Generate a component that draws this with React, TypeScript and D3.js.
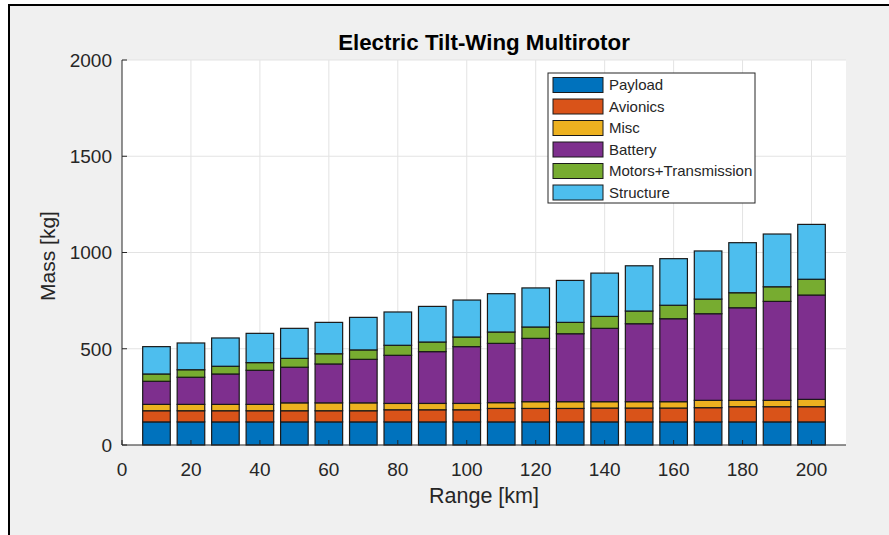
import React from 'react';
import * as d3 from 'd3';

// range values (km) and the mass breakdown (kg)
const ranges = [10, 20, 30, 40, 50, 60, 70, 80, 90, 100, 110, 120, 130, 140, 150, 160, 170, 180, 190, 200];
const payload = [120, 120, 120, 120, 120, 120, 120, 120, 120, 120, 120, 120, 120, 120, 120, 120, 120, 120, 120, 120];
const avionics = [58, 58, 58, 58, 58, 58, 58, 63, 63, 63, 70, 70, 70, 72, 72, 72, 74, 79, 79, 79];
const misc = [33, 33, 33, 33, 41, 41, 41, 33, 33, 33, 30, 35, 35, 33, 33, 33, 38, 33, 33, 38];
const battery = [120, 141, 158, 177, 185, 202, 226, 250, 269, 295, 308, 329, 353, 381, 405, 431, 450, 481, 514, 542];
const motors = [38, 39, 40, 40, 46, 53, 49, 52, 50, 50, 59, 59, 59, 62, 66, 70, 76, 78, 76, 82];
const structure = [142, 139, 147, 152, 156, 163, 169, 173, 185, 192, 199, 203, 218, 225, 235, 242, 250, 260, 274, 285];

const seriesNames = ['Payload', 'Avionics', 'Misc', 'Battery', 'Motors+Transmission', 'Structure'];
const seriesColors = ['#0072BD', '#D95319', '#EDB120', '#7E2F8E', '#77AC30', '#4DBEEE'];

const xTicks = [0, 20, 40, 60, 80, 100, 120, 140, 160, 180, 200];
const yTicks = [0, 500, 1000, 1500, 2000];

const W = 889;
const H = 535;
const plot = { left: 122, right: 846, top: 60, bottom: 445 };
const font = '"Liberation Sans", Arial, Helvetica, sans-serif';
const ink = '#262626';

export default function App() {
  const x = d3.scaleLinear().domain([0, 210]).range([plot.left, plot.right]);
  const y = d3.scaleLinear().domain([0, 2000]).range([plot.bottom, plot.top]);

  const rows = ranges.map((r, i) => ({
    range: r,
    Payload: payload[i],
    Avionics: avionics[i],
    Misc: misc[i],
    Battery: battery[i],
    'Motors+Transmission': motors[i],
    Structure: structure[i],
  }));
  const layers = d3.stack<any>().keys(seriesNames)(rows);
  const barW = x(8) - x(0);

  // legend box
  const lg = { x: 548, y: 73, w: 207, h: 130 };
  const rowH = 21.5;

  return (
    <svg width={W} height={H} style={{ position: 'absolute', left: 0, top: 0, display: 'block', background: '#fff' }}>
      <rect x={9} y={5} width={W + 10} height={H + 10} fill="#f0f0f0" stroke="#000" strokeWidth={2} />

      {/* axes area */}
      <rect x={plot.left} y={plot.top} width={plot.right - plot.left} height={plot.bottom - plot.top} fill="#fff" />

      {/* grid */}
      {xTicks.filter(t => t > 0).map(t => (
        <line key={'gx' + t} x1={x(t)} x2={x(t)} y1={plot.top} y2={plot.bottom} stroke="#e3e3e3" strokeWidth={1} />
      ))}
      {yTicks.filter(t => t > 0).map(t => (
        <line key={'gy' + t} x1={plot.left} x2={plot.right} y1={y(t)} y2={y(t)} stroke="#e3e3e3" strokeWidth={1} />
      ))}

      {/* stacked bars */}
      {layers.map((layer, li) => (
        <g key={layer.key} fill={seriesColors[li]}>
          {layer.map((d, i) => (
            <rect
              key={i}
              x={x(ranges[i]) - barW / 2}
              y={y(d[1])}
              width={barW}
              height={y(d[0]) - y(d[1])}
              stroke="#1a1a1a"
              strokeWidth={1.2}
            />
          ))}
        </g>
      ))}

      {/* axis lines */}
      <line x1={plot.left} x2={plot.left} y1={plot.top} y2={plot.bottom} stroke={ink} strokeWidth={1} />
      <line x1={plot.left} x2={plot.right} y1={plot.bottom} y2={plot.bottom} stroke={ink} strokeWidth={1} />

      {/* y ticks */}
      {yTicks.map(t => (
        <g key={'yt' + t}>
          <line x1={plot.left} x2={plot.left + 5} y1={y(t)} y2={y(t)} stroke={ink} />
          <text x={112} y={y(t)} dy="0.36em" textAnchor="end" fontFamily={font} fontSize={19} fill={ink}>
            {t}
          </text>
        </g>
      ))}

      {/* x ticks */}
      {xTicks.map(t => (
        <g key={'xt' + t}>
          <line x1={x(t)} x2={x(t)} y1={plot.bottom} y2={plot.bottom - 5} stroke={ink} />
          <text x={x(t)} y={476} textAnchor="middle" fontFamily={font} fontSize={19} fill={ink}>
            {t}
          </text>
        </g>
      ))}

      {/* labels */}
      <text x={484} y={503} textAnchor="middle" fontFamily={font} fontSize={21.5} fill={ink}>
        Range [km]
      </text>
      <text
        transform={`translate(55, 256) rotate(-90)`}
        textAnchor="middle"
        fontFamily={font}
        fontSize={21}
        fill={ink}
      >
        Mass [kg]
      </text>
      <text x={484} y={50} textAnchor="middle" fontFamily={font} fontSize={22.3} fontWeight="bold" fill="#000">
        Electric Tilt-Wing Multirotor
      </text>

      {/* legend */}
      <rect x={lg.x} y={lg.y} width={lg.w} height={lg.h} fill="#fff" stroke={ink} strokeWidth={1} />
      {seriesNames.map((name, i) => {
        const cy = 85 + i * rowH;
        return (
          <g key={'lg' + name}>
            <rect x={553} y={cy - 7.5} width={50} height={15} fill={seriesColors[i]} stroke="#1a1a1a" strokeWidth={1} />
            <text x={609} y={cy} dy="0.36em" fontFamily={font} fontSize={15} fill={ink}>
              {name}
            </text>
          </g>
        );
      })}
    </svg>
  );
}
